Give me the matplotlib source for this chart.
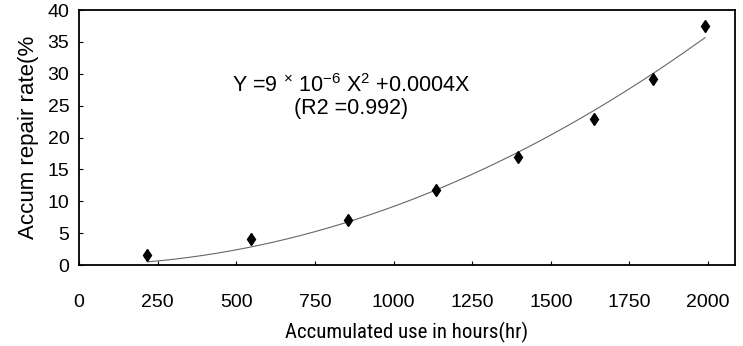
import numpy as np
import matplotlib
matplotlib.use('Agg')
import matplotlib.pyplot as plt

# accumulated use (hours) vs accumulated repair rate (%)
hours = [217, 548, 855, 1135, 1395, 1637, 1825, 1990]
repair_rate = [1.6, 4.1, 7.0, 11.8, 16.9, 22.9, 29.2, 37.5]

x_ticks = [0, 250, 500, 750, 1000, 1250, 1500, 1750, 2000]
y_ticks = [0, 5, 10, 15, 20, 25, 30, 35, 40]

plt.rcParams['font.family'] = ['Liberation Sans', 'DejaVu Sans']
plt.rcParams['mathtext.fontset'] = 'custom'
plt.rcParams['mathtext.rm'] = 'Liberation Sans'
plt.rcParams['mathtext.it'] = 'Liberation Sans'
narrow = ['Roboto Condensed', 'Archivo Narrow', 'PT Sans Narrow', 'Liberation Sans']

fig = plt.figure(figsize=(7.43, 3.46), dpi=100)
ax = fig.add_axes([0.1063, 0.234, 0.8827, 0.737])

# trendline through origin: y = a*x^2 + b*x, least squares on the points
x = np.array(hours, dtype=float)
A = np.column_stack([x ** 2, x])
(a, b), *_ = np.linalg.lstsq(A, np.array(repair_rate), rcond=None)
xs = np.linspace(hours[0], hours[-1], 200)
ax.plot(xs, a * xs ** 2 + b * xs, color='#666666', lw=0.8)

ax.plot(hours, repair_rate, 'd', color='black', markersize=6.5)

ax.set_xlim(0, 2085)
ax.set_ylim(0, 40)
ax.set_xticks(x_ticks)
ax.set_yticks(y_ticks)
ax.tick_params(direction='in', length=3, width=0.8, labelsize=14)
ax.tick_params(axis='x', pad=21)
ax.tick_params(axis='y', pad=7)
for s in ax.spines.values():
    s.set_linewidth(1.3)

ax.set_xlabel('Accumulated use in hours(hr)', fontsize=15, labelpad=8, family=narrow)
ax.set_ylabel('Accum repair rate(%', fontsize=16, labelpad=6)

ax.text(866, 28.2, r'Y =9 $^{\times}$ 10$^{-6}$ X$^{2}$ +0.0004X', ha='center', va='center', fontsize=15.5)
ax.text(866, 24.5, '(R2 =0.992)', ha='center', va='center', fontsize=15.5)

fig.savefig('out.png', dpi=100)
